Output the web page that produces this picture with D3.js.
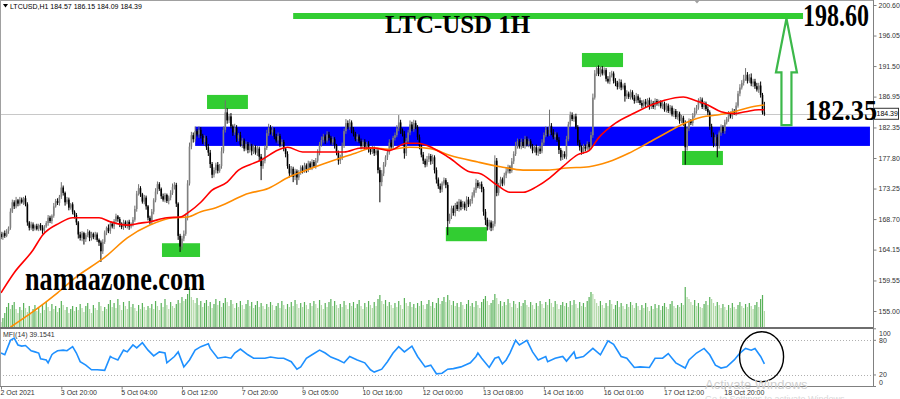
<!DOCTYPE html>
<html><head><meta charset="utf-8">
<script src="https://cdn.jsdelivr.net/npm/d3@7"></script>
<style>body{margin:0;background:#fff}svg{display:block}</style>
</head><body>
<svg id="c" width="900" height="399"></svg>
<script>
// ---------------- DATA ----------------
const firstOpen = 166.5;
const closes = [
166.0,166.6,166.2,166.9,167.4,169.8,171.2,170.6,171.5,171.0,
171.6,171.2,171.8,170.9,168.2,167.4,167.9,167.3,167.7,167.2,
167.8,167.4,167.0,167.6,168.1,168.9,168.4,169.2,170.6,171.4,
171.1,172.0,173.4,172.6,171.2,171.6,170.4,170.9,169.8,169.3,
168.2,166.4,165.9,166.6,165.7,166.3,166.8,165.9,166.5,166.0,
166.4,165.6,165.2,163.9,165.3,166.7,167.4,166.9,168.0,167.6,
168.4,169.1,168.7,168.0,167.5,168.2,167.7,168.3,167.6,168.0,
168.6,170.2,172.5,173.3,172.4,171.3,171.9,170.6,168.9,168.2,
169.8,171.5,172.8,173.9,173.2,172.1,171.6,172.3,171.4,171.9,
172.6,173.5,173.8,171.0,166.2,164.6,165.8,166.5,168.9,174.0,
179.5,181.2,180.6,181.8,181.3,182.0,181.1,180.2,180.8,179.4,
178.6,176.9,175.3,176.0,176.8,175.9,176.6,178.8,182.0,184.6,
183.4,184.0,182.5,181.6,182.3,180.7,181.2,179.8,180.4,179.2,
179.9,179.0,179.6,178.8,179.4,178.6,179.2,178.0,176.6,177.4,
179.3,181.5,182.3,181.6,182.0,181.0,180.4,181.1,179.8,180.2,
179.2,178.4,176.6,175.5,176.2,175.0,175.8,174.9,175.6,176.4,
175.9,176.7,176.1,177.0,176.4,177.2,176.6,177.4,178.6,179.8,
180.5,181.0,180.4,181.3,180.8,180.1,180.6,179.7,178.6,177.4,
177.9,179.6,181.8,183.0,182.4,183.1,182.0,181.4,180.6,181.0,
180.3,179.6,180.2,179.4,179.9,179.1,178.7,179.2,178.5,178.9,
176.0,174.2,175.5,176.8,177.9,178.6,180.1,179.4,180.8,181.2,
182.2,183.1,181.9,181.4,178.5,180.3,181.6,182.8,182.1,183.0,
182.4,180.9,179.6,178.3,177.4,176.8,177.6,178.1,177.3,177.9,
176.0,174.6,173.6,173.1,174.0,174.5,173.8,168.4,169.2,170.3,
169.6,170.8,170.2,171.3,170.5,171.0,170.4,171.6,170.9,171.4,
172.2,173.0,174.1,173.6,173.9,173.2,169.8,168.6,167.6,168.2,
167.4,168.0,177.4,172.6,173.8,174.6,174.0,175.2,175.8,176.4,
175.9,177.3,178.4,179.6,180.3,179.5,180.2,179.6,180.6,179.8,
180.3,179.5,178.9,179.4,178.6,179.2,178.8,180.1,181.2,182.0,
181.4,182.6,181.6,180.9,181.3,180.5,179.0,177.9,178.4,178.0,
180.6,182.8,184.2,183.6,184.0,182.4,180.1,179.4,178.7,179.5,
179.2,179.9,179.4,181.2,186.8,190.4,191.2,190.3,191.0,190.4,
190.9,189.6,189.2,190.1,190.4,189.3,189.0,188.4,189.1,188.3,
188.6,187.0,187.4,186.9,187.6,186.8,186.3,187.0,186.4,186.0,
185.6,186.2,185.8,186.4,185.5,186.0,185.4,186.3,185.9,186.1,
185.5,185.9,185.0,185.6,184.8,185.3,184.3,184.8,183.9,184.4,
183.3,183.8,183.0,179.4,182.2,183.3,183.0,184.1,184.8,185.3,
186.2,186.5,185.4,185.9,185.1,184.6,182.5,181.3,180.0,180.9,
179.6,181.6,182.4,181.8,183.1,183.6,184.4,184.0,184.8,184.5,
185.6,187.4,188.3,189.0,189.6,190.2,189.3,189.8,188.9,189.2,
188.5,188.0,188.6,187.2,184.57,184.39
];
// wick lengths above / below the body, in tenths of a dollar
const wickUp = [
3,2,4,3,2,5,4,3,5,2,4,3,2,4,3,2,4,3,2,3,
2,3,4,2,3,4,3,2,5,3,4,3,8,3,2,4,3,2,3,2,
3,2,4,3,2,3,4,2,3,2,4,3,2,3,4,3,2,5,3,2,
3,4,2,3,2,4,3,2,3,2,4,5,4,6,3,2,4,3,2,3,
4,3,5,4,3,2,4,3,2,3,4,5,4,3,2,3,4,5,6,5,
6,5,4,7,3,5,4,3,4,3,5,4,3,4,3,4,3,6,5,18,
6,4,5,3,6,4,3,5,4,3,4,3,5,3,4,3,4,3,4,5,
4,5,6,4,5,3,4,5,3,4,3,2,4,3,4,3,4,3,4,3,
3,4,3,4,3,4,3,4,5,4,5,4,3,5,4,3,4,3,2,3,
4,5,4,6,4,5,3,4,3,4,3,4,3,4,3,4,3,4,3,4,
3,4,5,4,3,4,5,4,3,4,5,11,4,3,4,5,4,6,4,5,
4,3,4,3,4,3,5,4,3,4,3,4,3,4,3,4,3,4,3,4,
4,3,5,4,3,4,3,5,4,3,5,4,6,4,3,4,3,4,3,4,
3,4,8,4,3,4,3,4,5,4,3,5,4,6,4,3,5,4,5,4,
4,3,4,3,4,3,4,5,4,5,4,24,4,5,4,3,4,3,5,4,
5,4,5,4,3,4,3,4,3,4,3,4,3,5,6,5,3,4,4,5,
4,3,4,5,4,3,4,3,5,4,3,4,5,3,4,3,4,5,3,4,
4,3,4,3,4,5,3,4,3,4,3,4,3,4,3,4,3,4,3,4,
3,4,3,4,3,4,3,4,5,4,5,4,3,4,3,4,3,4,3,4,
4,3,4,3,4,3,4,3,4,3,5,4,5,4,6,10,4,5,6,4,
4,5,4,6,3,16
];
const wickDn = [
3,4,3,2,4,3,2,4,3,4,3,2,4,3,5,4,3,4,3,2,
3,4,5,3,2,4,3,4,3,2,3,4,3,4,5,3,4,3,4,5,
4,6,4,5,8,4,3,5,4,3,4,3,5,16,4,3,4,3,4,3,
4,3,4,5,3,4,3,4,5,3,4,3,4,3,4,3,4,5,4,3,
3,4,3,4,3,4,3,4,3,5,4,3,4,5,6,8,5,4,3,4,
3,4,5,4,3,5,4,3,5,4,5,6,5,4,5,4,3,4,3,4,
5,4,3,5,4,5,4,3,5,4,3,5,4,6,4,3,5,7,21,4,
4,3,4,3,5,4,3,5,4,3,4,5,4,6,5,8,5,11,4,3,
4,3,5,4,3,4,3,4,3,4,3,4,5,3,4,3,4,5,4,6,
5,4,3,4,3,4,5,4,3,4,3,5,4,3,4,5,4,3,4,3,
5,30,6,4,3,4,3,4,3,4,3,4,5,4,8,4,3,4,3,4,
3,4,5,4,5,4,3,4,5,4,5,6,4,5,4,3,5,21,4,5,
4,5,3,4,5,3,4,5,4,3,4,3,4,3,4,5,6,8,6,5,
5,4,4,5,4,3,4,3,4,3,4,3,4,3,4,3,4,3,4,3,
4,3,4,3,4,5,4,3,4,3,4,3,4,3,4,3,6,5,4,3,
4,3,4,3,4,3,4,5,4,3,4,3,4,3,4,3,4,3,4,3,
3,4,3,4,3,4,5,4,3,4,3,8,4,3,4,3,4,3,4,3,
4,3,4,3,5,4,3,4,3,4,3,4,3,4,3,4,3,4,3,4,
4,3,4,26,5,4,3,4,3,4,3,4,3,4,3,4,5,4,6,5,
17,4,5,3,4,3,4,3,4,3,4,3,4,3,4,3,4,3,4,5,
4,3,5,4,3,3
];
const volumes = [
5,9,14,20,24,18,22,25,18,14,20,17,24,19,15,21,13,18,22,16,
19,14,22,17,25,20,16,23,18,21,15,19,26,22,17,20,14,18,21,16,
20,17,23,19,15,21,24,18,14,22,19,17,25,21,16,20,18,23,27,20,
24,19,28,22,17,25,21,18,26,20,23,19,16,22,18,24,20,17,21,19,
23,18,26,21,17,24,20,28,22,18,25,21,19,23,27,24,30,26,28,33,
40,30,27,24,29,22,26,20,24,27,21,25,19,23,28,22,26,20,24,29,
25,21,27,23,19,24,20,26,22,18,23,27,21,25,19,22,26,20,24,21,
18,23,20,25,22,17,21,24,19,26,22,18,23,20,25,21,27,23,19,24,
20,25,22,18,24,21,26,23,19,27,22,18,24,20,25,28,21,26,22,19,
23,20,26,22,18,24,21,25,19,23,27,21,18,24,20,26,22,19,25,21,
28,32,26,23,27,21,25,22,19,24,20,26,22,18,29,24,21,25,20,23,
19,24,21,26,22,18,23,27,21,25,19,24,29,23,26,30,25,32,27,22,
26,21,24,20,25,22,18,23,27,21,24,20,26,22,19,25,28,31,26,22,
24,27,33,29,23,26,21,25,22,28,24,20,26,23,19,25,21,24,27,22,
20,25,22,18,24,21,26,23,19,25,22,28,24,20,26,23,18,22,25,21,
24,20,26,22,27,23,19,25,21,24,20,26,30,35,33,28,24,21,26,22,
19,24,21,27,23,18,22,26,20,24,21,18,23,20,25,22,19,24,21,17,
22,19,24,20,16,21,18,23,19,22,17,21,24,20,18,23,26,21,19,22,
20,24,22,40,30,28,25,22,27,21,24,20,19,23,26,22,30,28,24,21,
25,22,19,23,20,17,22,19,24,20,18,22,25,21,19,23,20,24,21,18,
22,25,20,28,32,16
];
// moving averages: [bar index, price]
const maFast = [[0,157.7],[7,160.7],[17,164.1],[22,166.3],[31,168.1],[38,168.9],[52,168.9],[58,168.3],[67,167.8],[74,168.1],
[79,168.3],[88,168.9],[95,169.0],[100,169.8],[106,171.2],[112,173.0],[120,174.2],[126,176.0],[132,176.8],[138,177.5],
[147,179.0],[152,179.4],[160,178.7],[173,178.7],[182,178.7],[191,179.3],[198,179.3],[206,178.9],[215,180.0],[221,180.0],
[229,179.3],[238,177.8],[249,175.7],[254,175.5],[263,173.8],[270,172.7],[277,172.7],[284,173.5],[291,174.8],[298,176.5],
[306,178.3],[312,178.9],[317,180.8],[326,183.0],[336,184.5],[345,185.7],[352,186.4],[362,186.9],[368,186.4],[375,185.7],
[382,184.7],[389,184.4],[395,184.7],[402,185.0],[405,185.0]];
const maSlow = [[5,152.6],[17,154.9],[30,157.7],[40,160.1],[51,162.2],[55,163.0],[67,165.9],[79,167.8],[91,168.9],
[99,169.0],[106,169.8],[114,170.4],[123,171.5],[129,172.3],[142,173.3],[153,175.0],[165,176.3],[177,177.5],[188,178.5],
[197,179.3],[206,179.1],[217,179.4],[228,179.2],[238,178.2],[253,177.2],[265,176.5],[277,176.0],[290,176.0],[300,176.3],
[312,176.5],[322,177.2],[333,178.5],[343,180.0],[354,181.7],[363,183.0],[372,183.9],[380,184.2],[389,184.7],[398,185.4],[405,185.7]];
// MFI(14): [bar index, value]
const mfiPoints = [[0,58],[2,55],[5,80],[7,84],[9,72],[11,70],[13,71],[16,62],[18,60],[20,58],
[21,48],[24,46],[25,41],[27,55],[28,58],[30,62],[33,63],[35,62],[38,69],[40,58],
[42,43],[45,37],[48,29],[51,29],[55,28],[58,52],[59,50],[62,46],[65,63],[67,60],
[70,72],[72,67],[75,76],[78,63],[81,53],[84,60],[87,58],[88,41],[92,52],[94,60],
[97,34],[100,46],[103,63],[106,69],[110,74],[111,66],[115,49],[119,51],[122,49],[124,58],
[127,65],[131,55],[134,49],[140,49],[143,51],[147,49],[150,49],[154,43],[157,30],[159,34],
[162,49],[165,55],[169,63],[172,58],[175,51],[179,46],[182,41],[185,52],[189,46],[193,41],
[196,29],[198,25],[202,30],[205,43],[208,58],[211,69],[214,60],[218,70],[221,52],[225,34],
[228,37],[231,22],[234,23],[237,30],[240,31],[244,34],[249,41],[252,52],[253,58],[255,49],
[259,33],[262,49],[264,51],[266,39],[268,46],[270,58],[273,80],[275,72],[279,80],[282,60],
[285,46],[289,52],[290,43],[294,49],[298,52],[300,44],[304,60],[305,49],[309,52],[314,66],
[318,55],[322,79],[325,73],[329,52],[332,49],[336,33],[339,34],[344,33],[347,49],[351,49],
[354,57],[356,49],[358,41],[363,32],[365,46],[369,58],[373,66],[376,55],[379,37],[382,32],
[385,34],[389,46],[392,58],[395,66],[398,63],[400,66],[403,52],[405,39.1541]];
const priceTicks = [200.60,196.05,191.50,186.95,182.35,177.80,173.25,168.70,164.15,159.55,155.00];
const mfiTicks = [100,80,20,0];
const mfiLevels = [80,20];
const timeLabels = ["2 Oct 2021","3 Oct 20:00","5 Oct 04:00","6 Oct 12:00","7 Oct 20:00","9 Oct 05:00",
  "10 Oct 16:00","12 Oct 00:00","13 Oct 08:00","14 Oct 16:00","16 Oct 01:00","17 Oct 12:00","18 Oct 20:00"];
const timeLabelBars = [0,32,64,96,128,160,192,224,256,288,320,352,384];
// annotations (bar index ranges, price ranges)
const supportZone = {from:103, to:461, top:182.47, bottom:179.6};
const greenBoxes = [
  {from:109.3, to:131, top:187.2, bottom:185.1},
  {from:85.4, to:105.6, top:165.1, bottom:163.05},
  {from:236, to:257.8, top:167.5, bottom:165.4},
  {from:308.2, to:330, top:193.45, bottom:191.35},
  {from:361.3, to:383, top:178.85, bottom:176.75}
];
const targetLine = {from:155, to:425.5, price:198.95};
const targetArrow = {bar:416.7, from:182.7, to:198.6};
const mfiCircle = {bar:403.5, value:51.6};
const header = "LTCUSD,H1  184.57 186.15 184.09 184.39";
const lastPrice = 184.39;

// ---------------- DRAW ----------------
const svg = d3.select("#c");
const PR = 873;          // right edge of plot area
const MAIN_B = 327;      // bottom of main panel
const N = closes.length;
const x = d3.scaleLinear().domain([0, N-1]).range([1, 764.4]);
const yP = d3.scaleLinear().domain([155, 200.6]).range([311, 5]);
const yV = d3.scaleLinear().domain([0, 40]).range([MAIN_B, 287]);
const yM = d3.scaleLinear().domain([0, 100]).range([386.5, 328.8]);

const bars = closes.map((c,i)=>{
  const o = i===0 ? firstOpen : closes[i-1];
  return {i, o, c, h: Math.max(o,c)+wickUp[i]/10, l: Math.min(o,c)-wickDn[i]/10, v: volumes[i]};
});

const defs = svg.append("defs");
defs.append("clipPath").attr("id","clipMain").append("rect").attr("x",0).attr("y",0).attr("width",PR).attr("height",MAIN_B);
defs.append("clipPath").attr("id","clipMfi").append("rect").attr("x",0).attr("y",329).attr("width",PR).attr("height",57);

const main = svg.append("g").attr("clip-path","url(#clipMain)");

// objects (background)
main.append("rect").attr("x",x(supportZone.from)).attr("y",yP(supportZone.top))
  .attr("width",x(supportZone.to)-x(supportZone.from)).attr("height",yP(supportZone.bottom)-yP(supportZone.top))
  .attr("fill","#0000ff");
main.selectAll("rect.gb").data(greenBoxes).join("rect").attr("class","gb")
  .attr("x",d=>x(d.from)).attr("y",d=>yP(d.top)).attr("width",d=>x(d.to)-x(d.from))
  .attr("height",d=>yP(d.bottom)-yP(d.top)).attr("fill","#32cd32");
main.append("line").attr("x1",x(targetLine.from)).attr("x2",x(targetLine.to))
  .attr("y1",yP(targetLine.price)).attr("y2",yP(targetLine.price))
  .attr("stroke","#32cd32").attr("stroke-width",6);

// last price line
main.append("line").attr("x1",0).attr("x2",PR).attr("y1",Math.round(yP(lastPrice))+0.5).attr("y2",Math.round(yP(lastPrice))+0.5)
  .attr("stroke","#c8c8c8").attr("stroke-width",1);

// volumes
main.selectAll("rect.vol").data(bars).join("rect").attr("class","vol")
  .attr("x",d=>x(d.i)-0.6).attr("width",1.2)
  .attr("y",d=>yV(d.v)).attr("height",d=>MAIN_B-yV(d.v))
  .attr("fill",(d,i)=> i>0 && d.v>bars[i-1].v ? "#58b158" : "#b3d9a8");

// candles
const cg = main.append("g");
cg.selectAll("line.wick").data(bars).join("line").attr("class","wick")
  .attr("x1",d=>x(d.i)).attr("x2",d=>x(d.i)).attr("y1",d=>yP(d.h)).attr("y2",d=>yP(d.l))
  .attr("stroke",d=>d.c>=d.o?"#707070":"#000").attr("stroke-width",1);
cg.selectAll("rect.body").data(bars).join("rect").attr("class","body")
  .attr("x",d=>x(d.i)-0.8).attr("width",1.6)
  .attr("y",d=>yP(Math.max(d.o,d.c))).attr("height",d=>Math.max(0.8, Math.abs(yP(d.o)-yP(d.c))))
  .attr("fill",d=>d.c>=d.o?"#808080":"#000");

// moving averages
const maLine = d3.line().x(d=>x(d[0])).y(d=>yP(d[1])).curve(d3.curveMonotoneX);
main.append("path").datum(maSlow).attr("d",maLine).attr("fill","none").attr("stroke","#ff8c00").attr("stroke-width",1.6);
main.append("path").datum(maFast).attr("d",maLine).attr("fill","none").attr("stroke","#ff0000").attr("stroke-width",1.6);

// MFI panel
const mfiG = svg.append("g");
mfiG.selectAll("line.lvl").data(mfiLevels).join("line").attr("class","lvl")
  .attr("x1",0).attr("x2",PR).attr("y1",d=>Math.round(yM(d))+0.5).attr("y2",d=>Math.round(yM(d))+0.5)
  .attr("stroke","#b0b0b0").attr("stroke-dasharray","1,2");
mfiG.append("path").attr("clip-path","url(#clipMfi)").datum(mfiPoints)
  .attr("d", d3.line().x(d=>x(d[0])).y(d=>yM(d[1])))
  .attr("fill","none").attr("stroke","#1e90ff").attr("stroke-width",1.6);
mfiG.append("ellipse").attr("cx",x(mfiCircle.bar)).attr("cy",yM(mfiCircle.value)).attr("rx",22).attr("ry",25)
  .attr("fill","none").attr("stroke","#000").attr("stroke-width",1.4);
mfiG.append("text").attr("x",3).attr("y",337).attr("font-family","Liberation Sans, Arial, sans-serif")
  .attr("font-size",7).attr("fill","#333").text("MFI(14) " + mfiPoints[mfiPoints.length-1][1].toFixed(4));

// frames
const fr = svg.append("g").attr("fill","none");
fr.append("line").attr("x1",0).attr("x2",PR).attr("y1",0.5).attr("y2",0.5).attr("stroke","#a0a0a0");
fr.append("line").attr("x1",0.5).attr("x2",0.5).attr("y1",0).attr("y2",386.5).attr("stroke","#a0a0a0");
fr.append("rect").attr("x",0).attr("y",MAIN_B).attr("width",PR+1).attr("height",2).attr("fill","#6e6e6e");
fr.append("line").attr("x1",0).attr("x2",PR+1).attr("y1",386.5).attr("y2",386.5).attr("stroke","#808080");
fr.append("line").attr("x1",PR+0.5).attr("x2",PR+0.5).attr("y1",0).attr("y2",387).attr("stroke","#808080");

// price axis
const pa = svg.append("g").attr("transform",`translate(${PR+0.5},0)`)
  .call(d3.axisRight(yP).tickValues(priceTicks).tickFormat(d3.format(".2f")).tickSize(3).tickPadding(2));
pa.select(".domain").remove();
pa.selectAll("line").attr("stroke","#808080");
pa.selectAll("text").attr("font-family","Liberation Sans, Arial, sans-serif").attr("font-size",7).attr("fill","#333");

// last price label
svg.append("rect").attr("x",PR+1.5).attr("y",yP(lastPrice)-5.5).attr("width",24).attr("height",11)
  .attr("fill","#fff").attr("stroke","#333").attr("stroke-width",1);
svg.append("text").attr("x",PR+3.5).attr("y",yP(lastPrice)+2.5).attr("font-family","Liberation Sans, Arial, sans-serif")
  .attr("font-size",7).attr("fill","#000").text(lastPrice.toFixed(2));

// MFI axis
const ma = svg.append("g");
ma.selectAll("line").data(mfiTicks).join("line").attr("x1",PR).attr("x2",PR+3)
  .attr("y1",d=>yM(d)).attr("y2",d=>yM(d)).attr("stroke","#808080");
ma.selectAll("text").data(mfiTicks).join("text").attr("x",PR+6)
  .attr("y",d=>Math.min(382.5, Math.max(333, yM(d)))+2.5)
  .attr("font-family","Liberation Sans, Arial, sans-serif").attr("font-size",7).attr("fill","#333").text(d=>d);

// time axis
const ta = svg.append("g").attr("transform","translate(0,386.5)")
  .call(d3.axisBottom(x).tickValues(timeLabelBars).tickFormat((d,i)=>timeLabels[i]).tickSize(3).tickPadding(1));
ta.select(".domain").remove();
ta.selectAll("line").attr("stroke","#808080");
ta.selectAll("text").attr("text-anchor","start").attr("dx",-1).attr("font-family","Liberation Sans, Arial, sans-serif")
  .attr("font-size",7).attr("fill","#333");

// header
svg.append("path").attr("d","M3,4 L8,4 L5.5,7.5 Z").attr("fill","#000");
svg.append("text").attr("x",10).attr("y",9).attr("font-family","Liberation Sans, Arial, sans-serif")
  .attr("font-size",7).attr("fill","#000").text(header);
svg.append("path").attr("d","M694,0 L700,0 L697,3.5 Z").attr("fill","#a0a0a0");

// arrow
const ax = x(targetArrow.bar), yTip = yP(targetArrow.to), yBase = yP(targetArrow.from), headLen = 54;
svg.append("path").attr("d",
  `M${ax},${yTip} L${ax+10.5},${yTip+headLen} L${ax+5},${yTip+headLen} L${ax+5},${yBase} L${ax-5},${yBase} L${ax-5},${yTip+headLen} L${ax-10.5},${yTip+headLen} Z`)
  .attr("fill","none").attr("stroke","#3cb84a").attr("stroke-width",2.2).attr("stroke-linejoin","miter");

// big texts
const serif = "Liberation Serif, Times New Roman, serif";
svg.append("text").attr("x",385).attr("y",33).attr("font-family",serif).attr("font-weight","bold")
  .attr("font-size",26).attr("textLength",145).attr("lengthAdjust","spacingAndGlyphs").attr("fill","#000").text("LTC-USD 1H");
svg.append("text").attr("x",803).attr("y",26).attr("font-family",serif).attr("font-weight","bold")
  .attr("font-size",31).attr("textLength",66).attr("lengthAdjust","spacingAndGlyphs").attr("fill","#000").text(targetArrow.to.toFixed(2));
svg.append("text").attr("x",805).attr("y",119.5).attr("font-family",serif).attr("font-weight","bold")
  .attr("font-size",30).attr("textLength",72).attr("lengthAdjust","spacingAndGlyphs").attr("fill","#000").text("182.35");
svg.append("text").attr("x",25).attr("y",290).attr("font-family",serif).attr("font-weight","bold")
  .attr("font-size",33).attr("textLength",180).attr("lengthAdjust","spacingAndGlyphs").attr("fill","#000").text("namaazone.com");

// watermark
svg.append("text").attr("x",705).attr("y",389).attr("font-family","Liberation Sans, Arial, sans-serif")
  .attr("font-size",13).attr("fill","#cfcfcf").text("Activate Windows");
svg.append("text").attr("x",705).attr("y",402).attr("font-family","Liberation Sans, Arial, sans-serif")
  .attr("font-size",9).attr("fill","#d8d8d8").text("Go to Settings to activate Windows.");
</script>
</body></html>
